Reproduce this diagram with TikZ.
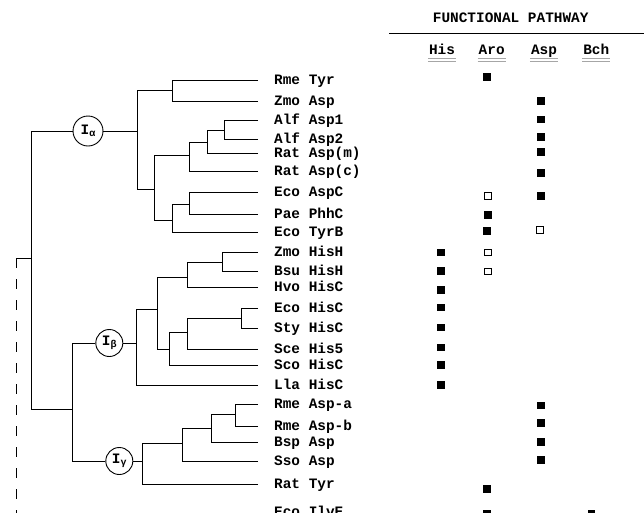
\documentclass[tikz,border=0pt]{standalone}
\usepackage{fontspec}
\setmonofont{Liberation Mono}
\newcommand\labfont{\ttfamily\bfseries\fontsize{14.4}{16}\selectfont}
\newcommand\subfont{\ttfamily\bfseries\fontsize{10}{10}\selectfont}
\begin{document}
\begin{tikzpicture}[x=1pt,y=-1pt,
  tree/.style={line width=0.9pt,black},
  lab/.style={anchor=base west,inner sep=0pt,font=\labfont},
  hd/.style={anchor=base,inner sep=0pt,font=\labfont},
  ul/.style={line width=0.6pt,gray!70},
  fsq/.style={fill=black,minimum size=7.5pt,inner sep=0pt},
  osq/.style={draw=black,fill=white,line width=0.9pt,minimum size=6.5pt,inner sep=0pt},
  grp/.style={circle,draw,line width=0.9pt,inner sep=0pt,fill=white},
]
\useasboundingbox (0,0) rectangle (644,512);
\clip (0,0) rectangle (644,512);

% ---------- header ----------
\node[hd] (title) at (510.7,22.5) {FUNCTIONAL PATHWAY};
\coordinate (rl) at (389,33.3);
\coordinate (rr) at (644,33.3);
\draw[line width=1pt] (rl) -- (rr);
\node[hd] (hH) at (442,54.7) {His};
\node[hd] (hA) at (491.7,54.7) {Aro};
\node[hd] (hS) at (544,54.7) {Asp};
\node[hd] (hB) at (596.3,54.7) {Bch};
\coordinate (u1) at (0,58.5);
\coordinate (u2) at (0,61.3);
\foreach \h in {hH,hA,hS,hB}{
  \draw[ul] ([xshift=-1pt]\h.west |- u1) -- ([xshift=1pt]\h.east |- u1);
  \draw[ul] ([xshift=-1pt]\h.west |- u2) -- ([xshift=1pt]\h.east |- u2);
}

% ---------- leaves ----------
\foreach \n/\y in {1/80.5,2/101,3/120,4/139.5,5/153,6/171,7/192.5,8/214,9/232,
  10/252.5,11/271.5,12/287.5,13/308.5,14/328.3,15/349,16/365.5,17/385,
  18/404,19/426,20/442.3,21/461,22/484.3}{
  \coordinate (l\n) at (258,\y);
}
\node[lab] (t1)  at (274,84.7)  {Rme Tyr};
\node[lab] (t2)  at (274,105.2) {Zmo Asp};
\node[lab] (t3)  at (274,124.2) {Alf Asp1};
\node[lab] (t4)  at (274,143.7) {Alf Asp2};
\node[lab] (t5)  at (274,157.2) {Rat Asp(m)};
\node[lab] (t6)  at (274,175.2) {Rat Asp(c)};
\node[lab] (t7)  at (274,196.7) {Eco AspC};
\node[lab] (t8)  at (274,218.2) {Pae PhhC};
\node[lab] (t9)  at (274,236.2) {Eco TyrB};
\node[lab] (t10) at (274,256.7) {Zmo HisH};
\node[lab] (t11) at (274,275.7) {Bsu HisH};
\node[lab] (t12) at (274,291.7) {Hvo HisC};
\node[lab] (t13) at (274,312.7) {Eco HisC};
\node[lab] (t14) at (274,332.5) {Sty HisC};
\node[lab] (t15) at (274,353.2) {Sce His5};
\node[lab] (t16) at (274,369.7) {Sco HisC};
\node[lab] (t17) at (274,389.2) {Lla HisC};
\node[lab] (t18) at (274,408.2) {Rme Asp-a};
\node[lab] (t19) at (274,430.2) {Rme Asp-b};
\node[lab] (t20) at (274,446.5) {Bsp Asp};
\node[lab] (t21) at (274,465.2) {Sso Asp};
\node[lab] (t22) at (274,488.5) {Rat Tyr};
\node[lab] (t23) at (274,516)   {Eco IlvE};

% ---------- internal junctions ----------
\coordinate (a1) at (172,90);
\coordinate (a2) at (224,130.7);
\coordinate (a3) at (207,142.7);
\coordinate (a4) at (189,155);
\coordinate (a5) at (189,204.3);
\coordinate (a6) at (172,220.7);
\coordinate (a7) at (154,189);
\coordinate (a8) at (137,131);
\coordinate (b1) at (222,262.7);
\coordinate (b2) at (187,277);
\coordinate (b3) at (241,318.3);
\coordinate (b4) at (187,332);
\coordinate (b5) at (169,349);
\coordinate (b6) at (157,309);
\coordinate (b7) at (136,343);
\coordinate (g1) at (235,414);
\coordinate (g2) at (211,428.3);
\coordinate (g3) at (182,443.3);
\coordinate (g4) at (142,461);
\coordinate (q) at (72,409);
\coordinate (r) at (31,409);
\coordinate (d1) at (31,258);
\coordinate (d0) at (16,258);
\coordinate (d2) at (16,530);

\node[grp,minimum size=30pt] (Ia) at (88,131) {\labfont I\raisebox{-1.5pt}{\subfont α}};
\node[grp,minimum size=27pt] (Ib) at (109.3,343) {\labfont I\raisebox{-2pt}{\subfont β}};
\node[grp,minimum size=27pt] (Ig) at (119.3,461) {\labfont I\raisebox{-2pt}{\subfont γ}};

% ---------- I alpha ----------
\draw[tree] (l1) -| (a1);  \draw[tree] (l2) -| (a1);
\draw[tree] (l3) -| (a2);  \draw[tree] (l4) -| (a2);
\draw[tree] (a2) -| (a3);  \draw[tree] (l5) -| (a3);
\draw[tree] (a3) -| (a4);  \draw[tree] (l6) -| (a4);
\draw[tree] (l7) -| (a5);  \draw[tree] (l8) -| (a5);
\draw[tree] (a5) -| (a6);  \draw[tree] (l9) -| (a6);
\draw[tree] (a4) -| (a7);  \draw[tree] (a6) -| (a7);
\draw[tree] (a1) -| (a8);  \draw[tree] (a7) -| (a8);
\draw[tree] (a8) -- (Ia);
% ---------- I beta ----------
\draw[tree] (l10) -| (b1); \draw[tree] (l11) -| (b1);
\draw[tree] (b1) -| (b2);  \draw[tree] (l12) -| (b2);
\draw[tree] (l13) -| (b3); \draw[tree] (l14) -| (b3);
\draw[tree] (b3) -| (b4);  \draw[tree] (l15) -| (b4);
\draw[tree] (b4) -| (b5);  \draw[tree] (l16) -| (b5);
\draw[tree] (b2) -| (b6);  \draw[tree] (b5) -| (b6);
\draw[tree] (b6) -| (b7);  \draw[tree] (l17) -| (b7);
\draw[tree] (b7) -- (Ib);
% ---------- I gamma ----------
\draw[tree] (l18) -| (g1); \draw[tree] (l19) -| (g1);
\draw[tree] (g1) -| (g2);  \draw[tree] (l20) -| (g2);
\draw[tree] (g2) -| (g3);  \draw[tree] (l21) -| (g3);
\draw[tree] (g3) -| (g4);  \draw[tree] (l22) -| (g4);
\draw[tree] (g4) -- (Ig);
% ---------- root ----------
\draw[tree] (Ib) -| (q);
\draw[tree] (Ig) -| (q);
\draw[tree] (Ia) -| (r);
\draw[tree] (q) -- (r);
\draw[tree] (d1) -- (d0);
\draw[tree,dash pattern=on 10pt off 11pt] (d0) -- (d2);

% ---------- markers ----------
\node[fsq] (m1)  at (487,77) {};
\node[fsq] (m2)  at (541,101) {};
\node[fsq] (m3)  at (541,119.5) {};
\node[fsq] (m4)  at (541,137) {};
\node[fsq] (m5)  at (541,152) {};
\node[fsq] (m6)  at (541,173) {};
\node[osq] (m7)  at (488,196) {};
\node[fsq] (m8)  at (541,196) {};
\node[fsq] (m9)  at (488,215) {};
\node[fsq] (m10) at (487,231) {};
\node[osq] (m11) at (540,230) {};
\node[fsq] (m12) at (441,252.5) {};
\node[osq] (m13) at (488,252.5) {};
\node[fsq] (m14) at (441,271) {};
\node[osq] (m15) at (488,271.5) {};
\node[fsq] (m16) at (441,290) {};
\node[fsq] (m17) at (441,307.5) {};
\node[fsq] (m18) at (441,327.3) {};
\node[fsq] (m19) at (441,347.3) {};
\node[fsq] (m20) at (441,365) {};
\node[fsq] (m21) at (441,385) {};
\node[fsq] (m22) at (541,405.5) {};
\node[fsq] (m23) at (541,423) {};
\node[fsq] (m24) at (541,442) {};
\node[fsq] (m25) at (541,460) {};
\node[fsq] (m26) at (487,489) {};
\node[fsq] (m27) at (487,513.5) {};
\node[fsq] (m28) at (591.5,513.5) {};
\end{tikzpicture}
\end{document}
